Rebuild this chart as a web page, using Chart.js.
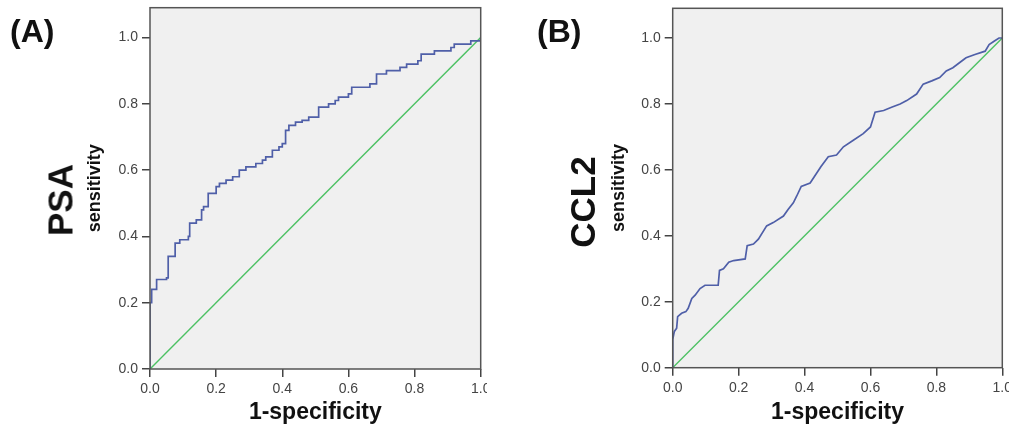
<!DOCTYPE html>
<html>
<head>
<meta charset="utf-8">
<script src="https://cdn.jsdelivr.net/npm/chart.js@4"></script>
<style>
  body { margin: 0; background: #fff; width: 1014px; height: 432px; overflow: hidden; position: relative; font-family: "Liberation Sans", Arial, sans-serif; }
  .panel { position: absolute; top: 0; height: 432px; overflow: hidden; }
  .letter { position: absolute; font-size: 32px; line-height: 32px; font-weight: bold; color: #111; }
  .marker { position: absolute; font-size: 35px; line-height: 35px; font-weight: bold; color: #111; white-space: nowrap; transform: translate(-50%, -50%) rotate(-90deg); }
</style>
</head>
<body>
<div class="panel" style="left:0; width:487px;"><canvas id="chartA" width="500" height="432"></canvas></div>
<div class="panel" style="left:507px; width:502px;"><canvas id="chartB" width="507" height="432"></canvas></div>
<div class="letter" style="left:10px; top:15px;">(A)</div>
<div class="letter" style="left:537px; top:15px;">(B)</div>
<div class="marker" style="left:60px; top:200px;">PSA</div>
<div class="marker" style="left:582px; top:202px;">CCL2</div>
<script>
console.log("connected!");

// tick labels
var xTicks = [0, 0.2, 0.4, 0.6, 0.8, 1.0];
var yTicks = [0, 0.2, 0.4, 0.6, 0.8, 1.0];

// reference line
var diagX = [0, 1];
var diagY = [0, 1];

// PSA roc curve
var psaFpr = [0, 0, 0.005, 0.02, 0.05, 0.055, 0.076, 0.09, 0.116, 0.12, 0.14, 0.156, 0.162, 0.176, 0.20, 0.21, 0.23, 0.25, 0.27, 0.29, 0.32, 0.34, 0.35, 0.37, 0.39, 0.40, 0.41, 0.42, 0.44, 0.46, 0.48, 0.51, 0.54, 0.56, 0.57, 0.60, 0.61, 0.665, 0.685, 0.715, 0.756, 0.776, 0.81, 0.82, 0.86, 0.91, 0.92, 0.97, 1.0];
var psaTpr = [0, 0.20, 0.24, 0.27, 0.275, 0.34, 0.38, 0.39, 0.40, 0.44, 0.45, 0.48, 0.49, 0.53, 0.55, 0.56, 0.57, 0.58, 0.60, 0.61, 0.62, 0.63, 0.64, 0.66, 0.67, 0.68, 0.72, 0.735, 0.745, 0.75, 0.76, 0.79, 0.80, 0.81, 0.82, 0.83, 0.85, 0.86, 0.89, 0.90, 0.91, 0.92, 0.93, 0.95, 0.96, 0.97, 0.98, 0.99, 1.0];

// CCL2 roc curve
var ccl2Fpr = [0, 0, 0.005, 0.012, 0.015, 0.027, 0.04, 0.047, 0.058, 0.068, 0.083, 0.098, 0.138, 0.142, 0.154, 0.17, 0.185, 0.22, 0.226, 0.245, 0.26, 0.285, 0.305, 0.336, 0.35, 0.366, 0.376, 0.39, 0.417, 0.43, 0.45, 0.472, 0.497, 0.518, 0.548, 0.578, 0.60, 0.614, 0.64, 0.664, 0.69, 0.71, 0.74, 0.76, 0.786, 0.81, 0.83, 0.85, 0.87, 0.89, 0.917, 0.948, 0.96, 0.975, 0.99, 1.0];
var ccl2Tpr = [0, 0.085, 0.11, 0.12, 0.155, 0.165, 0.17, 0.18, 0.21, 0.22, 0.24, 0.25, 0.25, 0.295, 0.30, 0.32, 0.325, 0.33, 0.37, 0.375, 0.39, 0.43, 0.44, 0.46, 0.48, 0.50, 0.52, 0.55, 0.56, 0.58, 0.61, 0.64, 0.645, 0.67, 0.69, 0.71, 0.73, 0.775, 0.78, 0.79, 0.80, 0.81, 0.83, 0.86, 0.87, 0.88, 0.90, 0.91, 0.925, 0.94, 0.95, 0.96, 0.98, 0.99, 1.0, 1.0];

var fontFamily = '"Liberation Sans", Arial, sans-serif';

function toPoints(xs, ys) {
    var pts = [];
    for (var i = 0; i < xs.length; i++) {
        pts.push({ x: xs[i], y: ys[i] });
    }
    return pts;
}

// grey plot background and dark frame round the plot area
var framePlugin = {
    id: 'frame',
    beforeDraw: function(chart) {
        var a = chart.chartArea;
        var ctx = chart.ctx;
        ctx.save();
        ctx.fillStyle = '#f0f0f0';
        ctx.fillRect(a.left, a.top, a.right - a.left, a.bottom - a.top);
        ctx.restore();
    },
    afterDraw: function(chart) {
        var a = chart.chartArea;
        var ctx = chart.ctx;
        ctx.save();
        ctx.strokeStyle = '#555';
        ctx.lineWidth = 1.5;
        ctx.strokeRect(a.left, a.top, a.right - a.left, a.bottom - a.top);
        ctx.restore();
    }
};

function makeRoc(canvasId, xs, ys, stepped, pad, yWidth, xHeight) {
    var ctx = document.getElementById(canvasId);
    return new Chart(ctx, {
        type: 'line',
        data: {
            datasets: [{
                data: toPoints(xs, ys),
                borderColor: '#4f5fa8',
                borderWidth: 1.7,
                pointRadius: 0,
                stepped: stepped,
                tension: 0
            }, {
                data: toPoints(diagX, diagY),
                borderColor: '#4cc163',
                borderWidth: 1.4,
                pointRadius: 0
            }]
        },
        options: {
            responsive: false,
            animation: false,
            layout: { padding: pad },
            plugins: { legend: { display: false }, tooltip: { enabled: false } },
            scales: {
                x: {
                    type: 'linear',
                    min: 0,
                    max: 1,
                    afterBuildTicks: function(scale) {
                        scale.ticks = xTicks.map(function(v) { return { value: v }; });
                    },
                    afterFit: function(scale) {
                        scale.height = xHeight;
                        scale.paddingLeft = 0;
                        scale.paddingRight = 0;
                    },
                    grid: { drawOnChartArea: false, drawTicks: true, tickLength: 8, tickColor: '#444', lineWidth: 1.5 },
                    border: { display: false },
                    ticks: {
                        padding: 4,
                        maxRotation: 0,
                        autoSkip: false,
                        color: '#444',
                        font: { family: fontFamily, size: 14 },
                        callback: function(v) { return v.toFixed(1); }
                    },
                    title: {
                        display: true,
                        text: '1-specificity',
                        color: '#111',
                        padding: 0,
                        font: { family: fontFamily, size: 23, weight: 'bold' }
                    }
                },
                y: {
                    type: 'linear',
                    min: 0,
                    max: 1.09,
                    afterBuildTicks: function(scale) {
                        scale.ticks = yTicks.map(function(v) { return { value: v }; });
                    },
                    afterFit: function(scale) {
                        scale.width = yWidth;
                        scale.paddingTop = 0;
                        scale.paddingBottom = 0;
                    },
                    grid: { drawOnChartArea: false, drawTicks: true, tickLength: 8, tickColor: '#444', lineWidth: 1.5 },
                    border: { display: false },
                    ticks: {
                        padding: 4,
                        autoSkip: false,
                        color: '#444',
                        font: { family: fontFamily, size: 14 },
                        callback: function(v) { return v.toFixed(1); }
                    },
                    title: {
                        display: true,
                        text: 'sensitivity',
                        color: '#111',
                        padding: 0,
                        font: { family: fontFamily, size: 18, weight: 'bold' }
                    }
                }
            }
        },
        plugins: [framePlugin]
    });
}

// Panel A - PSA
var chartA = makeRoc('chartA', psaFpr, psaTpr, 'before', { left: 84.2, right: 19.3, top: 7.7, bottom: 6 }, 65.8, 57);

// Panel B - CCL2
var chartB = makeRoc('chartB', ccl2Fpr, ccl2Tpr, false, { left: 101.7, right: 11.7, top: 8.3, bottom: 6 }, 64, 58.3);
</script>
</body>
</html>
